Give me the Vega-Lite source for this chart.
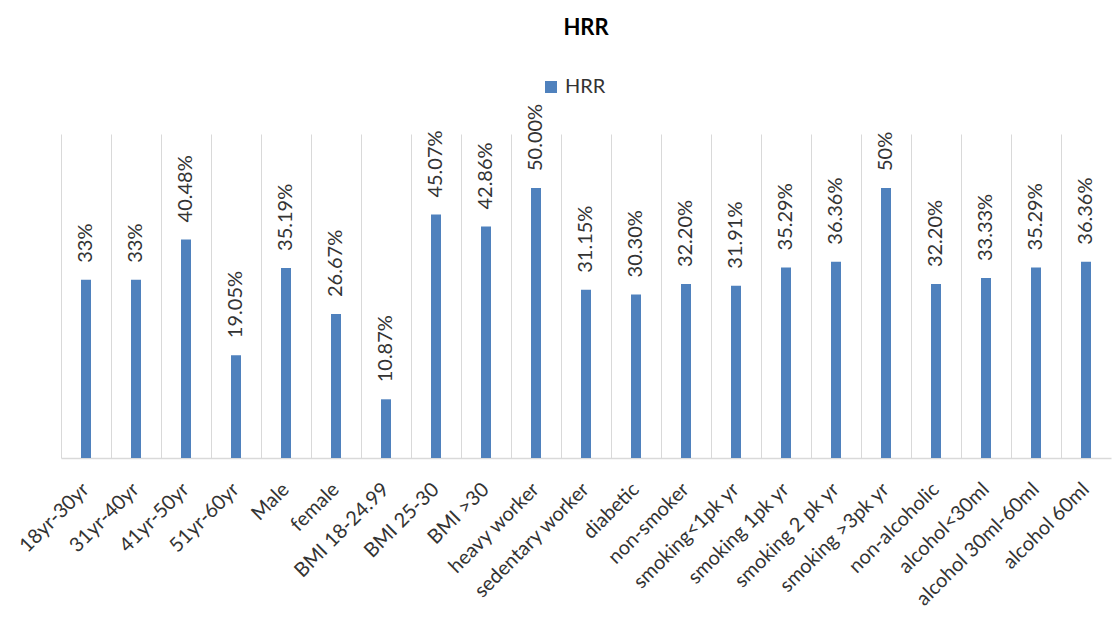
{
  "$schema": "https://vega.github.io/schema/vega-lite/v6.json",
  "width": 1050,
  "height": 324,
  "autosize": {"type": "none"},
  "padding": {"left": 61, "top": 134, "right": 4, "bottom": 170},
  "background": "white",
  "title": {"text": "HRR", "fontSize": 22, "font": "Lato", "fontWeight": "bold", "color": "#000000", "anchor": "middle", "offset": 37},
  "data": {"values": [
    {"category": "18yr-30yr", "value": 33, "label": "33%", "series": "HRR"},
    {"category": "31yr-40yr", "value": 33, "label": "33%", "series": "HRR"},
    {"category": "41yr-50yr", "value": 40.48, "label": "40.48%", "series": "HRR"},
    {"category": "51yr-60yr", "value": 19.05, "label": "19.05%", "series": "HRR"},
    {"category": "Male", "value": 35.19, "label": "35.19%", "series": "HRR"},
    {"category": "female", "value": 26.67, "label": "26.67%", "series": "HRR"},
    {"category": "BMI 18-24.99", "value": 10.87, "label": "10.87%", "series": "HRR"},
    {"category": "BMI 25-30", "value": 45.07, "label": "45.07%", "series": "HRR"},
    {"category": "BMI >30", "value": 42.86, "label": "42.86%", "series": "HRR"},
    {"category": "heavy worker", "value": 50, "label": "50.00%", "series": "HRR"},
    {"category": "sedentary worker", "value": 31.15, "label": "31.15%", "series": "HRR"},
    {"category": "diabetic", "value": 30.3, "label": "30.30%", "series": "HRR"},
    {"category": "non-smoker", "value": 32.2, "label": "32.20%", "series": "HRR"},
    {"category": "smoking<1pk yr", "value": 31.91, "label": "31.91%", "series": "HRR"},
    {"category": "smoking 1pk yr", "value": 35.29, "label": "35.29%", "series": "HRR"},
    {"category": "smoking 2 pk yr", "value": 36.36, "label": "36.36%", "series": "HRR"},
    {"category": "smoking >3pk yr", "value": 50, "label": "50%", "series": "HRR"},
    {"category": "non-alcoholic", "value": 32.2, "label": "32.20%", "series": "HRR"},
    {"category": "alcohol<30ml", "value": 33.33, "label": "33.33%", "series": "HRR"},
    {"category": "alcohol 30ml-60ml", "value": 35.29, "label": "35.29%", "series": "HRR"},
    {"category": "alcohol 60ml", "value": 36.36, "label": "36.36%", "series": "HRR"}
  ]},
  "encoding": {
    "x": {
      "field": "category", "type": "nominal", "sort": null,
      "scale": {"paddingInner": 0, "paddingOuter": 0},
      "axis": {
        "title": null, "labelAngle": -45, "labelAlign": "right", "labelBaseline": "middle",
        "labelFont": "Lato", "labelFontSize": 20, "labelColor": "#333333", "labelPadding": 28,
        "ticks": false, "grid": true, "gridColor": "#d9d9d9", "gridWidth": 1, "bandPosition": 0,
        "domainColor": "#d9d9d9", "domainWidth": 1.5
      }
    },
    "y": {"field": "value", "type": "quantitative", "scale": {"domain": [0, 60]}, "axis": null}
  },
  "layer": [
    {
      "mark": {"type": "bar", "width": 10, "color": "#4f81bd"},
      "encoding": {
        "color": {"field": "series", "type": "nominal", "scale": {"range": ["#4f81bd"]},
          "legend": {"title": null, "orient": "none", "legendX": 480, "legendY": -57, "symbolType": "square", "symbolSize": 144, "labelFont": "Lato", "labelFontSize": 20, "labelColor": "#333333"}}
      }
    },
    {
      "mark": {"type": "text", "angle": -90, "align": "left", "baseline": "middle", "dx": 17, "font": "Lato", "fontSize": 20, "color": "#333333"},
      "encoding": {"text": {"field": "label"}}
    }
  ],
  "config": {"view": {"stroke": null}}
}
